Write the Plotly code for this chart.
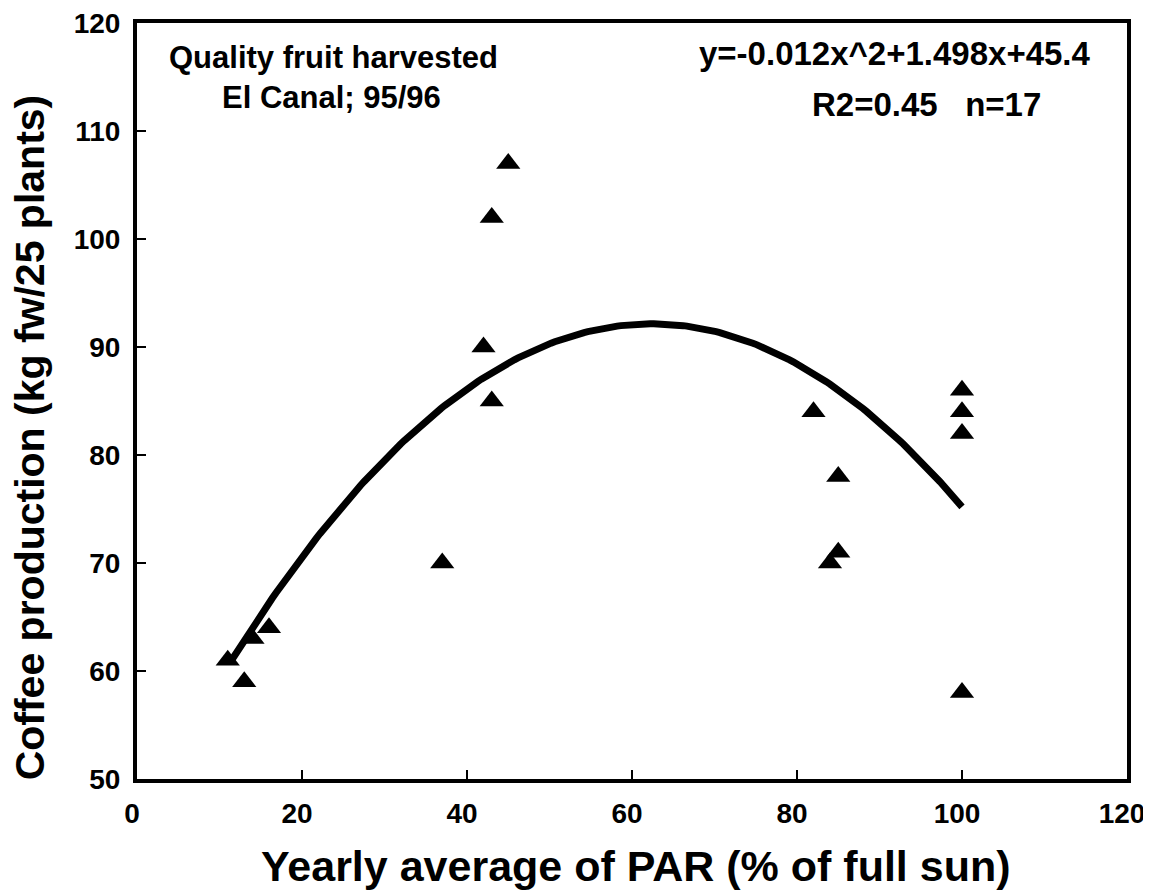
import numpy as np
import plotly.graph_objects as go

# Data
par = [11, 13, 14, 16, 37, 42, 43, 43, 45, 82, 85, 85, 84, 100, 100, 100, 100]
production = [61, 59, 63, 64, 70, 90, 85, 102, 107, 84, 78, 71, 70, 86, 84, 82, 58]

# Fitted quadratic as printed on the chart: y = a x^2 + b x + c
fit_coef = [-0.012, 1.498, 45.4]
fit_range = [11.5, 100]

x_ticks = [0, 20, 40, 60, 80, 100, 120]
y_ticks = [50, 60, 70, 80, 90, 100, 110, 120]

FONT = "Liberation Sans, Arial, sans-serif"

xf = np.linspace(fit_range[0], fit_range[1], 200)
yf = fit_coef[0] * xf ** 2 + fit_coef[1] * xf + fit_coef[2]

fig = go.Figure()
fig.add_trace(go.Scatter(x=xf, y=yf, mode="lines",
                         line=dict(color="black", width=7), hoverinfo="skip"))
fig.add_trace(go.Scatter(x=par, y=production, mode="markers",
                         marker=dict(symbol="triangle-up", size=21, color="black",
                                     line=dict(width=0))))

axis_common = dict(showgrid=False, zeroline=False, showline=True, linecolor="black",
                   linewidth=4, mirror=True, ticks="inside", ticklen=9, tickwidth=2,
                   tickcolor="black", automargin=False, ticklabeloverflow="allow",
                   tickfont=dict(family=FONT, size=28, color="black", weight="bold"))

fig.update_xaxes(range=[0, 120], tickvals=x_ticks, ticktext=[str(v) for v in x_ticks],
                 ticklabelstandoff=6, ticklabelshift=-5, **axis_common)
fig.update_yaxes(range=[50, 120], tickvals=y_ticks, ticktext=[str(v) for v in y_ticks],
                 ticklabelstandoff=7, **axis_common)

annotations = [
    dict(text="Quality fruit harvested", x=0.198, y=0.955, size=31),
    dict(text="El Canal; 95/96", x=0.196, y=0.902, size=31),
    dict(text="y=-0.012x^2+1.498x+45.4", x=0.766, y=0.960, size=33),
    dict(text="R2=0.45\u00a0\u00a0\u00a0n=17", x=0.797, y=0.892, size=33),
]
for a in annotations:
    fig.add_annotation(xref="paper", yref="paper", showarrow=False,
                       xanchor="center", yanchor="middle", text=a["text"],
                       x=a["x"], y=a["y"],
                       font=dict(family=FONT, size=a["size"], color="black", weight="bold"))

fig.add_annotation(text="Yearly average of PAR (% of full sun)", xref="paper", yref="paper",
                   x=0.504, y=-0.115, xanchor="center", yanchor="middle",
                   showarrow=False,
                   font=dict(family=FONT, size=43, color="black", weight="bold"))
fig.add_annotation(text="Coffee production (kg fw/25 plants)", xref="paper", yref="paper",
                   x=-0.108, y=0.452, xanchor="center", yanchor="middle", textangle=-90,
                   showarrow=False,
                   font=dict(family=FONT, size=41, color="black", weight="bold"))

# The page body adds an 8 px offset, so the figure is 8 px smaller than the window
fig.update_layout(width=1143, height=882, showlegend=False,
                  plot_bgcolor="white", paper_bgcolor="white",
                  margin=dict(l=129, r=24, t=15, b=111))

fig.write_html("out.html")
